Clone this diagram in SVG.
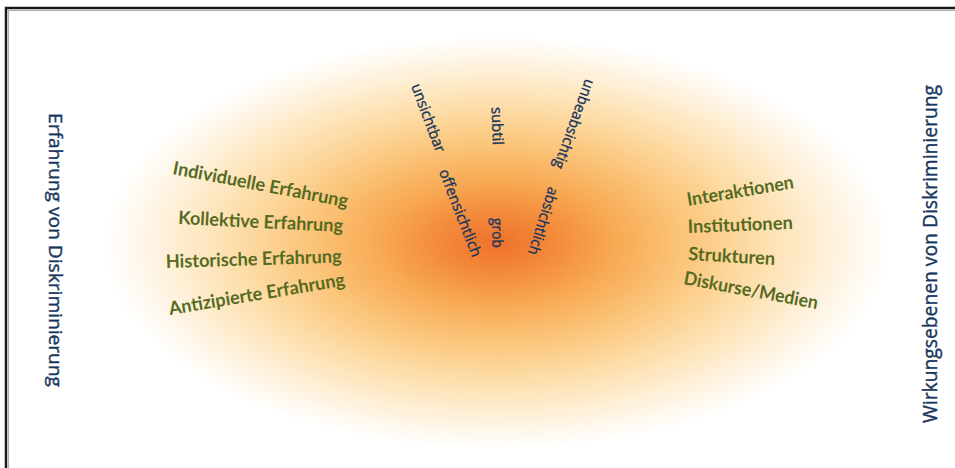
<svg xmlns="http://www.w3.org/2000/svg" width="955" height="468" viewBox="0 0 955 468">
  <defs>
    <radialGradient id="glow" cx="0.5" cy="0.5" r="0.5">
      <stop offset="0" stop-color="#ef712b"/>
      <stop offset="0.14" stop-color="#f3893a"/>
      <stop offset="0.3" stop-color="#f8a953"/>
      <stop offset="0.48" stop-color="#fbc57a"/>
      <stop offset="0.66" stop-color="#fddda8"/>
      <stop offset="0.83" stop-color="#feefd6"/>
      <stop offset="1" stop-color="#ffffff"/>
    </radialGradient>
    <style>
      .green { font-family: Lato, "Liberation Sans", sans-serif; font-weight: bold; font-size: 18.5px; fill: #566b1f; }
      .blue { font-family: "Open Sans", "Liberation Sans", sans-serif; font-size: 15px; fill: #17365d; stroke: #17365d; stroke-width: 0.35px; }
      .axis { font-family: "Open Sans", "Liberation Sans", sans-serif; fill: #17365d; stroke: #17365d; stroke-width: 0.4px; }
    </style>
  </defs>
  <rect width="955" height="468" fill="#ffffff"/>
  <ellipse cx="497" cy="243" rx="392" ry="206" fill="url(#glow)"/>
  <path d="M6,468 V8 H955" fill="none" stroke="#1a1a1a" stroke-width="2.5"/>
  <path d="M8.5,468 V10.5 H955" fill="none" stroke="#9a9a9a" stroke-width="0.8"/>

  <g id="axis-left">
    <text class="axis" font-size="19" transform="translate(49,250) rotate(90)" text-anchor="middle" textLength="274" lengthAdjust="spacingAndGlyphs">Erfahrung von Diskriminierung</text>
  </g>
  <g id="axis-right">
    <text class="axis" font-size="20.5" transform="translate(937,254) rotate(-90)" text-anchor="middle" textLength="338" lengthAdjust="spacingAndGlyphs">Wirkungsebenen von Diskriminierung</text>
  </g>

  <g id="experience">
    <text class="green" transform="translate(172,174) rotate(10.8)" textLength="178" lengthAdjust="spacingAndGlyphs">Individuelle Erfahrung</text>
    <text class="green" transform="translate(178,224) rotate(2.8)" textLength="165" lengthAdjust="spacingAndGlyphs">Kollektive Erfahrung</text>
    <text class="green" transform="translate(166,268) rotate(-1.8)" textLength="176" lengthAdjust="spacingAndGlyphs">Historische Erfahrung</text>
    <text class="green" transform="translate(170,315) rotate(-9.5)" textLength="178" lengthAdjust="spacingAndGlyphs">Antizipierte Erfahrung</text>
  </g>

  <g id="levels">
    <text class="green" transform="translate(688,206) rotate(-9.5)" textLength="108" lengthAdjust="spacingAndGlyphs">Interaktionen</text>
    <text class="green" transform="translate(688,233) rotate(-2.2)" textLength="105" lengthAdjust="spacingAndGlyphs">Institutionen</text>
    <text class="green" transform="translate(688,260) rotate(3.3)" textLength="87" lengthAdjust="spacingAndGlyphs">Strukturen</text>
    <text class="green" transform="translate(683,284) rotate(10.6)" textLength="136" lengthAdjust="spacingAndGlyphs">Diskurse/Medien</text>
  </g>

  <g id="forms">
    <text class="blue" transform="translate(428,118) rotate(69.5)" text-anchor="middle" dy="0.32em" textLength="72" lengthAdjust="spacingAndGlyphs">unsichtbar</text>
    <text class="blue" transform="translate(460,213) rotate(68.7)" text-anchor="middle" dy="0.32em" textLength="93" lengthAdjust="spacingAndGlyphs">offensichtlich</text>
    <text class="blue" transform="translate(497,126) rotate(88)" text-anchor="middle" dy="0.32em" textLength="38" lengthAdjust="spacingAndGlyphs">subtil</text>
    <text class="blue" transform="translate(497,233) rotate(89)" text-anchor="middle" dy="0.32em" textLength="30" lengthAdjust="spacingAndGlyphs">grob</text>
    <text class="blue" transform="translate(574,124) rotate(110)" text-anchor="middle" dy="0.32em" textLength="94" lengthAdjust="spacingAndGlyphs">unbeabsichtig</text>
    <text class="blue" transform="translate(543,221) rotate(107.4)" text-anchor="middle" dy="0.32em" textLength="70" lengthAdjust="spacingAndGlyphs">absichtlich</text>
  </g>
  <g id="connectors"/>
</svg>
